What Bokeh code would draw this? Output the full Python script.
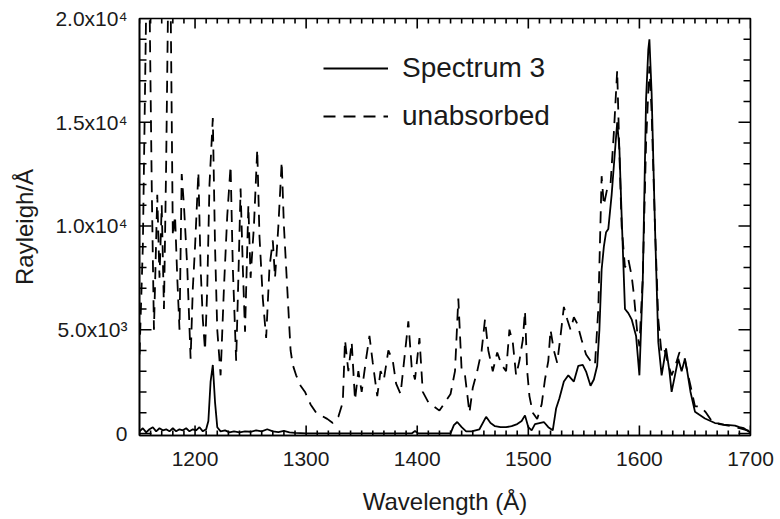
from bokeh.plotting import figure
from bokeh.models import Range1d, FixedTicker, Legend, LegendItem
from bokeh.embed import file_html
from bokeh.resources import INLINE

# ---------------- data ----------------
spec_wl = [1150, 1153, 1156, 1159, 1162, 1165, 1168, 1171, 1174, 1177,
           1180, 1183, 1186, 1189, 1192, 1195, 1198, 1201, 1204, 1207,
           1210, 1212, 1214, 1216, 1218, 1220, 1223, 1227, 1231, 1235,
           1240, 1245, 1250, 1255, 1260, 1265, 1270, 1275, 1280, 1285,
           1290, 1300, 1395, 1398, 1401, 1430, 1433, 1436, 1440, 1444,
           1449, 1456, 1462, 1466, 1470, 1475, 1480, 1485, 1490, 1494,
           1497, 1500, 1503, 1506, 1510, 1514, 1518, 1522, 1525, 1528,
           1532, 1536, 1541, 1545, 1549, 1552, 1556, 1559, 1562, 1564,
           1566, 1568, 1570, 1572, 1575, 1577, 1580, 1582, 1584, 1587,
           1590, 1593, 1597, 1600, 1603, 1606, 1608, 1609, 1611, 1614,
           1617, 1620, 1624, 1627, 1629, 1632, 1635, 1638, 1641, 1643,
           1646, 1650, 1654, 1659, 1664, 1668, 1671, 1676, 1681, 1686,
           1690, 1694, 1698, 1700]
spec_flux = [100, 250, 50, 200, 300, 100, 250, 150, 200, 100,
             250, 100, 200, 150, 250, 100, 200, 150, 300, 100,
             200, 600, 2500, 3300, 1500, 300, 100, 150, 50, 100,
             50, 100, 80, 150, 100, 200, 100, 60, 120, 50,
             30, 0, 0, 120, 0, 0, 400, 550, 300, 100,
             100, 200, 800, 500, 350, 300, 300, 350, 450, 600,
             870, 300, 150, 450, 500, 550, 300, 150, 1200, 1700,
             2500, 2800, 2500, 3260, 3300, 2980, 2300, 2600, 3260, 5000,
             7900, 9000, 9700, 9850, 11500, 12900, 15000, 13700, 10500, 6000,
             5800, 5500, 4700, 2800, 7300, 16100, 18500, 19000, 16400, 10000,
             4400, 2800, 4100, 3000, 2000, 2800, 3600, 3000, 3600, 3000,
             2000, 1050, 900, 720, 600, 500, 480, 420, 400, 380,
             300, 250, 100, 50]

unabs_wl = [1150, 1153, 1156, 1159, 1161, 1163, 1166, 1168, 1170, 1172,
            1174, 1176, 1178, 1180, 1182, 1184, 1186, 1188, 1190, 1193,
            1196, 1198, 1200, 1203, 1205, 1207, 1209, 1211, 1213, 1216,
            1218, 1220, 1223, 1226, 1229, 1232, 1234, 1237, 1239, 1241,
            1243, 1245, 1248, 1250, 1253, 1256, 1258, 1261, 1264, 1267,
            1270, 1272, 1275, 1278, 1280, 1282, 1284, 1286, 1288, 1291,
            1295, 1299, 1304, 1309, 1314, 1319, 1324, 1329, 1333, 1335,
            1338, 1341, 1344, 1347, 1350, 1354, 1357, 1360, 1364, 1367,
            1370, 1374, 1378, 1381, 1385, 1388, 1392, 1395, 1398, 1402,
            1405, 1410, 1415, 1420, 1425, 1430, 1434, 1437, 1440, 1443,
            1447, 1450, 1454, 1458, 1461, 1464, 1468, 1472, 1476, 1480,
            1483, 1486, 1489, 1492, 1495, 1497, 1499, 1501, 1504, 1508,
            1512, 1515, 1518, 1520, 1523, 1526, 1529, 1532, 1535, 1538,
            1541, 1544, 1548, 1552, 1556, 1560, 1563, 1566, 1568, 1571,
            1574, 1577, 1580, 1582, 1584, 1587, 1590, 1593, 1595, 1598,
            1600, 1603, 1606, 1609, 1611, 1614, 1617, 1620, 1623, 1626,
            1629, 1632, 1636, 1640, 1643, 1646, 1650, 1655, 1660, 1665,
            1672, 1680, 1690, 1700]
unabs_flux = [3800, 9000, 20500, 21000, 12000, 5000, 11500, 7500, 11000, 6000,
              13000, 22000, 21000, 9500, 10500, 7500, 5000, 12500, 11000, 8000,
              3600, 7000, 9000, 12600, 8000, 5500, 4000, 7000, 12000, 15200,
              9000, 5000, 2800, 7000, 10500, 12900, 8000, 3500, 7500, 11800,
              8000, 4900, 11000, 7500, 10000, 13700, 9500, 6500, 4600, 8000,
              9300, 7500, 10000, 13100, 10000, 8000, 6000, 4000, 3300, 2800,
              2300, 2000, 1400, 1000, 850, 700, 500, 800, 1500, 4500,
              3000, 4400, 1600, 3000, 2000, 3600, 4700, 3400, 1800, 3000,
              2600, 4000, 3500, 2400, 1900, 3400, 5400, 3200, 2600, 4600,
              2000, 1500, 1300, 1100, 1500, 1900, 3000, 6500, 3000, 2800,
              1000, 2200, 3000, 4000, 5500, 4000, 3000, 3900, 3300, 3000,
              5000, 4400, 2800, 3500, 4500, 5900, 3000, 1800, 1000, 700,
              1400, 2600, 3500, 5000, 4000, 3400, 4700, 6100, 5500, 5000,
              5600, 5300, 4500, 3800, 3500, 3300, 6000, 12400, 11000, 11800,
              12000, 14500, 17500, 13500, 10000, 8000, 8400, 7600, 6700, 4900,
              4200, 7500, 14000, 17700, 15500, 10000, 5500, 3800, 4000, 3300,
              2800, 3200, 3900, 3800, 3000, 2300, 1300, 1300, 1000, 600,
              450, 380, 250, 100]

x_major = [1200, 1300, 1400, 1500, 1600, 1700]
x_minor = [v for v in range(1150, 1701, 10) if v not in x_major]
y_major = [0, 5000, 10000, 15000, 20000]
y_minor = [v for v in range(0, 20001, 1000) if v not in y_major]
y_labels = ["0", "5.0x10\u00b3", "1.0x10\u2074", "1.5x10\u2074", "2.0x10\u2074"]
series_names = ["Spectrum 3", "unabsorbed"]

X0, X1 = 1150, 1700
Y0, Y1 = -100, 20000

FONT = "Liberation Sans"
TXT = "#1a1a1a"

p = figure(width=778, height=517,
           x_range=Range1d(X0, X1), y_range=Range1d(Y0, Y1),
           output_backend="svg", toolbar_location=None,
           min_border_left=139, min_border_right=28,
           min_border_top=18, min_border_bottom=80)
p.xgrid.visible = False
p.ygrid.visible = False
p.outline_line_color = "black"
p.outline_line_width = 1.6
p.background_fill_color = "white"
p.border_fill_color = "white"

# inward ticks on all four sides, drawn as short lines (lengths in data units)
px_x = (X1 - X0) / 611.0     # data units per pixel horizontally
px_y = (Y1 - Y0) / 419.0     # data units per pixel vertically
tick_xs, tick_ys = [], []
for ticks, ln in ((x_major, 10 * px_y), (x_minor, 5 * px_y)):
    for t in ticks:
        tick_xs += [[t, t], [t, t]]
        tick_ys += [[Y0, Y0 + ln], [Y1, Y1 - ln]]
for ticks, ln in ((y_major, 12 * px_x), (y_minor, 7 * px_x)):
    for t in ticks:
        tick_xs += [[X0, X0 + ln], [X1, X1 - ln]]
        tick_ys += [[t, t], [t, t]]
p.multi_line(xs=tick_xs, ys=tick_ys, line_color="black", line_width=1.6)

r_unabs = p.line(unabs_wl, unabs_flux, line_color="black", line_width=1.8,
                 line_dash="12 8")
r_spec = p.line(spec_wl, spec_flux, line_color="black", line_width=1.8)


def style(ax):
    ax.axis_line_color = "black"
    ax.axis_line_width = 1.6
    ax.major_tick_in = 0
    ax.major_tick_out = 0
    ax.minor_tick_in = 0
    ax.minor_tick_out = 0
    ax.major_label_text_font = FONT
    ax.major_label_text_color = TXT
    ax.major_label_text_font_size = "21px"
    ax.axis_label_text_font = FONT
    ax.axis_label_text_font_style = "normal"
    ax.axis_label_text_color = TXT
    ax.axis_label_text_font_size = "24px"


xa = p.xaxis[0]
xa.ticker = FixedTicker(ticks=x_major)
style(xa)
xa.major_label_standoff = 16
xa.axis_label = "Wavelength (\u00c5)"
xa.axis_label_standoff = 19

ya = p.yaxis[0]
ya.ticker = FixedTicker(ticks=y_major)
style(ya)
ya.major_label_standoff = 12
ya.major_label_overrides = {v: s for v, s in zip(y_major, y_labels)}
ya.axis_label = "Rayleigh/\u00c5"
ya.axis_label_standoff = 14

legend = Legend(items=[LegendItem(label=series_names[0], renderers=[r_spec]),
                       LegendItem(label=series_names[1], renderers=[r_unabs])],
                location=(174, 293), border_line_alpha=0,
                background_fill_alpha=0, glyph_width=65, glyph_height=30,
                label_height=30, label_standoff=14, spacing=16, padding=10,
                margin=0, label_text_font=FONT, label_text_font_size="28px",
                label_text_color=TXT)
p.add_layout(legend)

open("out.html", "w").write(file_html(p, INLINE))
